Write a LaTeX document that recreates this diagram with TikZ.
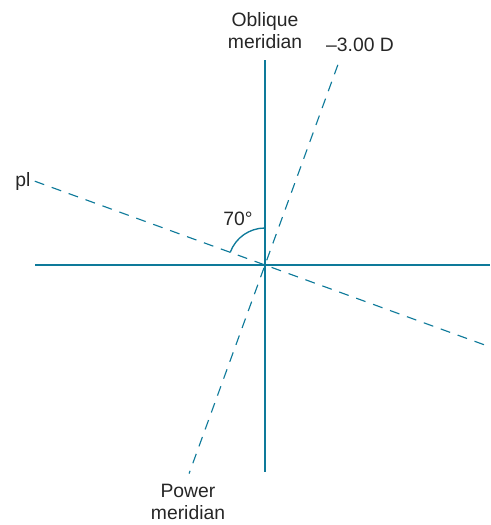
\documentclass[tikz,border=0pt]{standalone}
\usepackage{fontspec}
\setmainfont{Liberation Sans}
\usepackage{xcolor}
\definecolor{axisblue}{HTML}{0E7A9A}
\usepackage{tikz}
\usetikzlibrary{positioning}

\begin{document}
\begin{tikzpicture}[
  x=0.75pt, y=0.75pt,
  axis/.style={draw=axisblue, line width=2.2pt},
  meridian/.style={draw=axisblue, line width=0.85pt, dash pattern=on 7.5pt off 6pt},
  lbl/.style={font=\fontsize{14.5}{16.5}\selectfont, text=black!85, align=center, inner sep=0pt},
]
\useasboundingbox (0,0) rectangle (490,525);

% centre and ends
\coordinate (O) at (265,260);
\coordinate (vtop) at (265,465);
\coordinate (vbot) at (265,53);
\coordinate (hleft) at (35,260);
\coordinate (hright) at (490,260);
\path (O) ++(70:213) coordinate (mtop);
\path (O) ++(250:222) coordinate (mbot);
\path (O) ++(160:245) coordinate (pleft);
\path (O) ++(-20:246) coordinate (pright);

% axes
\draw[axis] (vbot) -- (vtop);
\draw[axis] (hleft) -- (hright);

% dashed meridians
\draw[meridian] (mtop) -- (mbot);
\draw[meridian] (pleft) -- (pright);

% angle
\draw[axisblue, line width=1pt] (O) ++(90:37) arc (90:160:37);

% labels
\node[lbl] (obl) at (265,494) {Oblique\\meridian};
\node[lbl] (power) at (188,23) {Power\\meridian};
\node[lbl] (power3) at (360,480) {–3.00 D};
\node[lbl, left=3pt of pleft] (pl) {pl};
\node[lbl] (ang) at (238,306) {70°};

\end{tikzpicture}
\end{document}
